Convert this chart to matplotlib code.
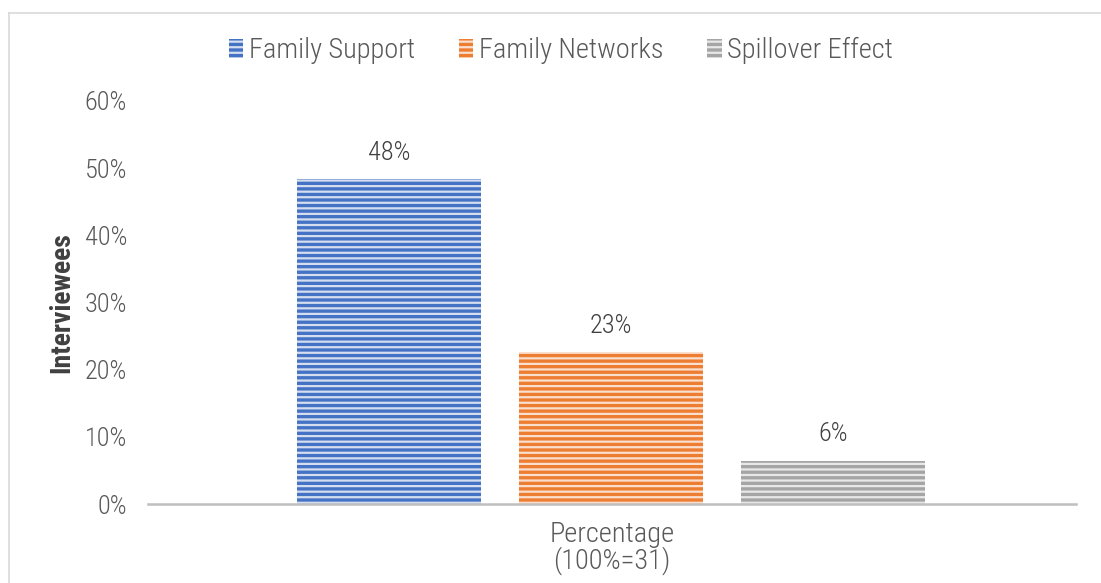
import matplotlib
matplotlib.use("Agg")
import matplotlib.pyplot as plt
from matplotlib import font_manager
from matplotlib.lines import Line2D
from matplotlib.patches import Patch

# Share of the 31 interviewees mentioning each factor
categories = ["Family Support", "Family Networks", "Spillover Effect"]
values = [48.39, 22.58, 6.45]
yticks = [0, 10, 20, 30, 40, 50, 60]

COLORS = ["#4472C4", "#ED7D31", "#A5A5A5"]
STRIPES = ["#D5DEF0", "#FADFCF", "#E8E8E8"]
TEXT = "#595959"

# prefer a narrow sans face when one is installed
installed = {f.name for f in font_manager.fontManager.ttflist}
narrow = [n for n in ["Liberation Sans Narrow", "Roboto Condensed",
                      "Open Sans Condensed", "Noto Sans Condensed"]
          if n in installed]
plt.rcParams["font.family"] = narrow + ["Roboto", "DejaVu Sans"]
if not narrow:
    plt.rcParams["font.stretch"] = "condensed"
plt.rcParams["hatch.linewidth"] = 1.6

fig = plt.figure(figsize=(11.01, 5.83), dpi=100)
ax = fig.add_axes([0.1344, 0.1355, 0.8429, 0.6913])

# light frame along the top and left of the chart area
fx, fy = 8.5 / 1101, 1 - 12.5 / 583
frame = dict(transform=fig.transFigure, color="#D9D9D9", linewidth=1.2)
fig.lines.append(Line2D([fx, fx], [0, fy], **frame))
fig.lines.append(Line2D([fx, 1], [fy, fy], **frame))

width = 0.198
step = 0.2395
centers = [0.499 + (i - 1) * step for i in range(len(values))]
for x, v, c, s in zip(centers, values, COLORS, STRIPES):
    ax.bar(x, v, width=width, color=c, edgecolor=s, linewidth=0, hatch="---")
    ax.text(x, v + 3.9, f"{v:.0f}%", ha="center", va="center",
            fontsize=19, color="#404040", fontweight="light")

ax.set_xlim(0, 1)
ax.set_ylim(0, 60)
ax.set_yticks(yticks)
ax.set_yticklabels([f"{t}%" for t in yticks], fontsize=19, color=TEXT,
                   fontweight="light")
ax.tick_params(axis="y", length=0, pad=15)
ax.set_xticks([])
for side in ["top", "right", "left"]:
    ax.spines[side].set_visible(False)
ax.spines["bottom"].set_color("#BFBFBF")
ax.spines["bottom"].set_linewidth(1.8)

ax.set_ylabel("Interviewees", fontsize=20, fontweight="bold", color="#404040",
              va="center")
ax.yaxis.set_label_coords(-0.0927, 0.5)
ax.set_xlabel("Percentage\n(100%=31)", fontsize=20.5, color=TEXT, labelpad=12,
              linespacing=0.95, fontweight="light")

handles = [Patch(facecolor=c, edgecolor=s, linewidth=0, hatch="---")
           for c, s in zip(COLORS, STRIPES)]
fig.legend(handles, categories, loc="center", bbox_to_anchor=(0.5095, 0.913),
           ncol=3, frameon=False, labelcolor=TEXT,
           prop={"size": 20.5, "weight": "light"},
           handlelength=0.5, handleheight=0.65, handletextpad=0.2,
           columnspacing=1.55)

fig.savefig("out.png", dpi=100)
